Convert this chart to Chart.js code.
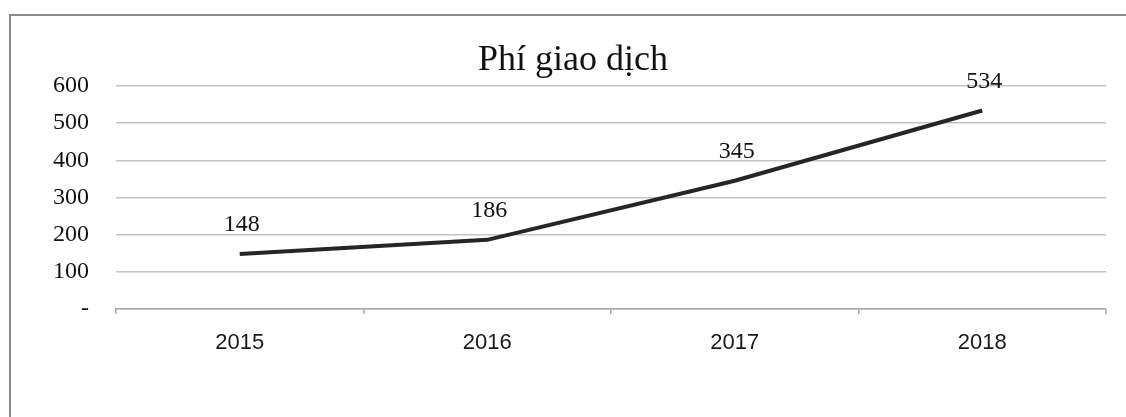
<!DOCTYPE html>
<html>
<head>
<meta charset="utf-8">
<script src="https://cdn.jsdelivr.net/npm/chart.js@4"></script>
<style>
  html, body { margin: 0; padding: 0; background: #fff; overflow: hidden; }
  #wrap { position: relative; width: 1126px; height: 417px; }
  #frame {
    position: absolute; left: 9px; top: 14px; width: 1140px; height: 420px;
    border: 2px solid #8a8a8a; box-sizing: border-box;
  }
  canvas { position: absolute; left: 0; top: 0; }
</style>
</head>
<body>
<div id="wrap">
  <div id="frame"></div>
  <canvas id="myChart" width="1126" height="417"></canvas>
</div>
<script>
const ctx = document.getElementById("myChart");

const years = ["2015", "2016", "2017", "2018"];
const fees = [148, 186, 345, 534];
const chartTitle = "Phí giao dịch";

// title sits centred on the outer frame, not the plot, so draw it by hand
const titleText = {
  id: "titleText",
  afterDraw(chart) {
    const c = chart.ctx;
    c.save();
    c.font = "36px 'Liberation Serif'";
    c.fillStyle = "#111";
    c.textAlign = "center";
    c.textBaseline = "alphabetic";
    c.fillText(chartTitle, 573, 70);
    c.restore();
  },
};

// value labels over each point
const pointLabels = {
  id: "pointLabels",
  afterDatasetsDraw(chart) {
    const c = chart.ctx;
    const meta = chart.getDatasetMeta(0);
    c.save();
    c.font = "24px 'Liberation Serif'";
    c.fillStyle = "#111";
    c.textAlign = "center";
    c.textBaseline = "middle";
    meta.data.forEach((pt, i) => {
      c.fillText(String(fees[i]), pt.x + 2, pt.y - 29);
    });
    c.restore();
  },
};

new Chart(ctx, {
  type: "line",
  data: {
    labels: years,
    datasets: [
      {
        label: chartTitle,
        data: fees,
        borderColor: "#262626",
        borderWidth: 4,
        pointRadius: 0,
        tension: 0,
        fill: false,
      },
    ],
  },
  options: {
    responsive: false,
    devicePixelRatio: 1,
    animation: false,
    layout: { padding: { left: 0, right: 20, top: 86, bottom: 64 } },
    plugins: {
      legend: { display: false },
      tooltip: { enabled: false },
      title: { display: false },
    },
    scales: {
      x: {
        offset: true,
        grid: {
          offset: true,
          drawOnChartArea: false,
          drawTicks: true,
          tickLength: 5,
          color: "#a8a8a8",
          lineWidth: 1.5,
        },
        border: { display: true, color: "#a8a8a8", width: 1.5 },
        ticks: {
          color: "#1a1a1a",
          padding: 16,
          font: { family: "'Liberation Sans'", size: 22 },
        },
        afterFit: (s) => { s.height = 44; },
      },
      y: {
        min: 0,
        max: 600,
        ticks: {
          stepSize: 100,
          color: "#111",
          padding: 27,
          font: { family: "'Liberation Serif'", size: 24 },
          callback: (v) => (v === 0 ? "-" : v),
        },
        grid: { drawTicks: false, color: "#c4c4c4", lineWidth: 1.5 },
        border: { display: false },
        afterFit: (s) => { s.width = 116; },
      },
    },
  },
  plugins: [pointLabels, titleText],
});
</script>
</body>
</html>
